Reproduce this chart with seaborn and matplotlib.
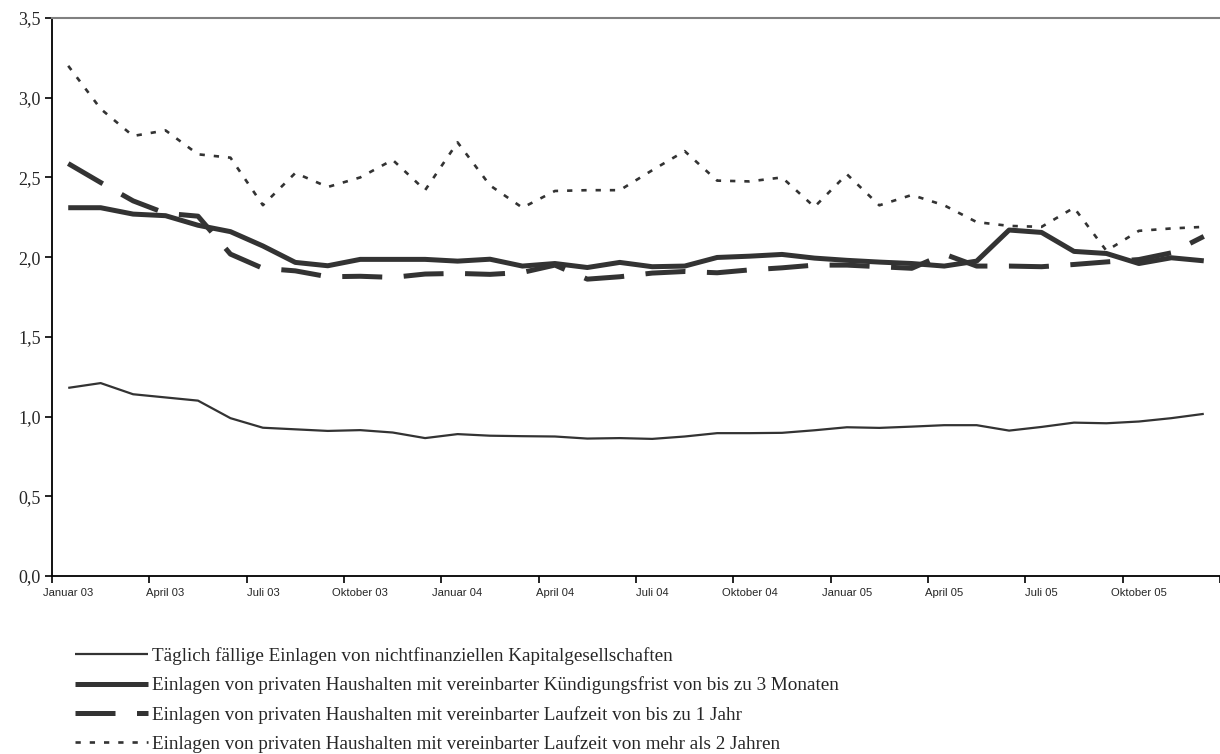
import matplotlib
matplotlib.use("Agg")
import matplotlib.pyplot as plt
import matplotlib.ticker as mticker
import seaborn as sns
import numpy as np
import pandas as pd

# ---- data (Jan 2003 .. Dec 2005, monthly) ----
months = [f"{m} {y}" for y in ("03", "04", "05") for m in
          ("Januar", "Februar", "März", "April", "Mai", "Juni", "Juli",
           "August", "September", "Oktober", "November", "Dezember")]
tick_labels = ["Januar 03", "April 03", "Juli 03", "Oktober 03",
               "Januar 04", "April 04", "Juli 04", "Oktober 04",
               "Januar 05", "April 05", "Juli 05", "Oktober 05"]

taeglich = [1.18, 1.21, 1.14, 1.12, 1.10, 0.99, 0.93, 0.92, 0.91, 0.915, 0.90, 0.865,
            0.89, 0.88, 0.877, 0.875, 0.862, 0.865, 0.86, 0.875, 0.896, 0.896, 0.898, 0.914,
            0.933, 0.929, 0.937, 0.946, 0.946, 0.912, 0.935, 0.962, 0.958, 0.969, 0.99, 1.017]
kuendigung = [2.31, 2.31, 2.27, 2.26, 2.20, 2.16, 2.07, 1.967, 1.946, 1.986, 1.986, 1.986,
              1.975, 1.987, 1.944, 1.96, 1.935, 1.967, 1.94, 1.944, 1.998, 2.006, 2.017, 1.994,
              1.98, 1.969, 1.96, 1.944, 1.975, 2.17, 2.155, 2.036, 2.023, 1.96, 1.996, 1.977]
bis1jahr = [2.587, 2.468, 2.353, 2.275, 2.257, 2.019, 1.93, 1.914, 1.877, 1.88, 1.873, 1.894,
            1.898, 1.892, 1.904, 1.95, 1.862, 1.877, 1.90, 1.91, 1.902, 1.92, 1.933, 1.95,
            1.95, 1.94, 1.93, 2.019, 1.944, 1.944, 1.94, 1.954, 1.97, 1.985, 2.027, 2.13]
ueber2jahre = [3.20, 2.93, 2.76, 2.795, 2.645, 2.624, 2.326, 2.528, 2.44, 2.50, 2.61, 2.42,
               2.72, 2.45, 2.31, 2.415, 2.42, 2.42, 2.545, 2.665, 2.48, 2.475, 2.50, 2.315,
               2.52, 2.325, 2.39, 2.325, 2.22, 2.196, 2.19, 2.31, 2.04, 2.165, 2.18, 2.19]

series_names = [
    "Täglich fällige Einlagen von nichtfinanziellen Kapitalgesellschaften",
    "Einlagen von privaten Haushalten mit vereinbarter Kündigungsfrist von bis zu 3 Monaten",
    "Einlagen von privaten Haushalten mit vereinbarter Laufzeit von bis zu 1 Jahr",
    "Einlagen von privaten Haushalten mit vereinbarter Laufzeit von mehr als 2 Jahren",
]

sns.set_theme(style="white")
plt.rcParams["font.family"] = ["Liberation Serif", "DejaVu Serif"]

fig = plt.figure(figsize=(12.2, 7.54), dpi=100)
ax = fig.add_axes([52 / 1220, 1 - 576 / 754, 1 - 52 / 1220, (576 - 18) / 754])

idx = np.arange(len(months))
col = "#333333"
styles = [
    dict(lw=1.6, linestyle="-"),
    dict(lw=3.6, linestyle="-"),
    dict(lw=3.6, linestyle=(0, (8, 4.3))),
    dict(lw=1.9, linestyle=(0, (2.0, 3.4))),
]
for name, vals, st in zip(series_names, [taeglich, kuendigung, bis1jahr, ueber2jahre], styles):
    df = pd.DataFrame({"x": idx, "y": vals})
    sns.lineplot(data=df, x="x", y="y", ax=ax, color=col, label=name,
                 solid_capstyle="butt", dash_capstyle="butt", **st)

ax.set_xlim(-0.5, len(months) - 0.5)
ax.set_ylim(0, 3.5)
ax.set_xlabel("")
ax.set_ylabel("")

# y axis
ax.yaxis.set_major_locator(mticker.MultipleLocator(0.5))
ax.yaxis.set_major_formatter(mticker.FuncFormatter(lambda v, p: f"{v:.1f}".replace(".", ",")))
ax.tick_params(axis="y", which="major", direction="out", length=5, width=1.2,
               color="black", labelsize=13, pad=3, left=True)

# x axis: labels at every 3rd month, marks between categories
label_pos = list(range(0, len(months), 3))
ax.set_xticks(label_pos)
ax.set_xticklabels(tick_labels, family="Liberation Sans", fontsize=8.1)
ax.set_xticks(np.arange(-0.5, len(months), 3), minor=True)
ax.tick_params(axis="x", which="major", length=0, pad=9)
ax.tick_params(axis="x", which="minor", direction="out", length=5, width=1.2,
               color="black", bottom=True)

for s in ("left", "bottom"):
    ax.spines[s].set_color("black")
    ax.spines[s].set_linewidth(1.3)
ax.spines["top"].set_color("#808080")
ax.spines["top"].set_linewidth(1.5)
ax.spines["right"].set_visible(False)
ax.grid(False)

handles, labels = ax.get_legend_handles_labels()
if ax.legend_:
    ax.legend_.remove()
fig.legend(handles, labels, loc="upper left",
           bbox_to_anchor=(75 / 1220, 1 - 647 / 754), frameon=False,
           fontsize=13.8, handlelength=3.8, handletextpad=0.2,
           labelspacing=0.6, borderpad=0, borderaxespad=0)

fig.savefig("out.png", dpi=100, facecolor="white")
